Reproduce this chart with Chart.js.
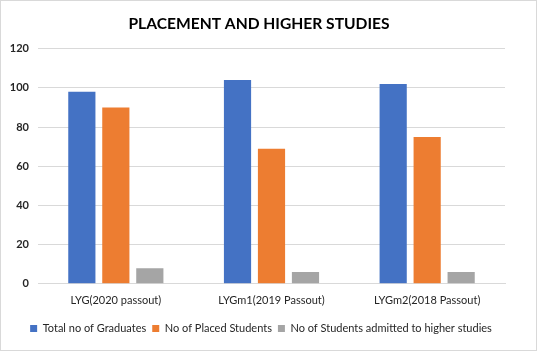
<!DOCTYPE html>
<html>
<head>
<meta charset="utf-8">
<script src="https://cdn.jsdelivr.net/npm/chart.js@4/dist/chart.umd.min.js"></script>
<style>
html,body{margin:0;padding:0;background:#fff;}
#wrap{width:537px;height:351px;box-sizing:border-box;border:1px solid #d9d9d9;position:relative;}
</style>
</head>
<body>
<div id="wrap"><canvas id="c"></canvas></div>
<script>
const categories = ["LYG(2020 passout)", "LYGm1(2019 Passout)", "LYGm2(2018 Passout)"];
const graduates = [98, 104, 102];
const placed = [90, 69, 75];
const higherStudies = [8, 6, 6];
const seriesNames = ["Total no of Graduates", "No of Placed Students", "No of Students admitted to higher studies"];
const yTicks = [0, 20, 40, 60, 80, 100, 120];

const FONT = "Lato, 'Open Sans', sans-serif";

const shiftBlocks = {
  id: 'shiftBlocks',
  afterLayout(chart) {
    const lg = chart.legend;
    if (lg) { lg.left += 8; lg.right += 8; }
    const tb = chart.titleBlock;
    if (tb) { tb.left += 6; tb.right += 6; }
  }
};

new Chart(document.getElementById('c'), {
  type: 'bar',
  data: {
    labels: categories,
    datasets: [
      { label: seriesNames[0], data: graduates, backgroundColor: '#4472C4' },
      { label: seriesNames[1], data: placed, backgroundColor: '#ED7D31' },
      { label: seriesNames[2], data: higherStudies, backgroundColor: '#A5A5A5' }
    ]
  },
  plugins: [shiftBlocks],
  options: {
    responsive: true,
    maintainAspectRatio: false,
    animation: false,
    datasets: { bar: { categoryPercentage: 0.655, barPercentage: 0.8 } },
    layout: { padding: { left: 0, right: 31, top: 0, bottom: 6 } },
    plugins: {
      title: {
        display: true,
        text: 'PLACEMENT AND HIGHER STUDIES',
        color: '#000',
        font: { family: FONT, size: 15.6, weight: 'bold' },
        padding: { top: 14, bottom: 15 }
      },
      legend: {
        position: 'bottom',
        labels: {
          boxWidth: 7, boxHeight: 7,
          padding: 6,
          color: '#262626',
          font: { family: FONT, size: 11 }
        }
      },
      tooltip: { enabled: false }
    },
    scales: {
      x: {
        grid: { display: false, drawTicks: false },
        border: { display: true, color: '#d9d9d9' },
        ticks: { color: '#262626', font: { family: FONT, size: 11 }, padding: 10 }
      },
      y: {
        min: 0, max: 120,
        afterBuildTicks: (s) => { s.ticks = yTicks.map(v => ({ value: v })); },
        afterFit: (s) => { s.width = 37; },
        grid: { color: '#d9d9d9', drawTicks: false },
        border: { display: false },
        ticks: { color: '#262626', font: { family: FONT, size: 11, weight: 'bold' }, padding: 9 }
      }
    }
  }
});
</script>
</body>
</html>
